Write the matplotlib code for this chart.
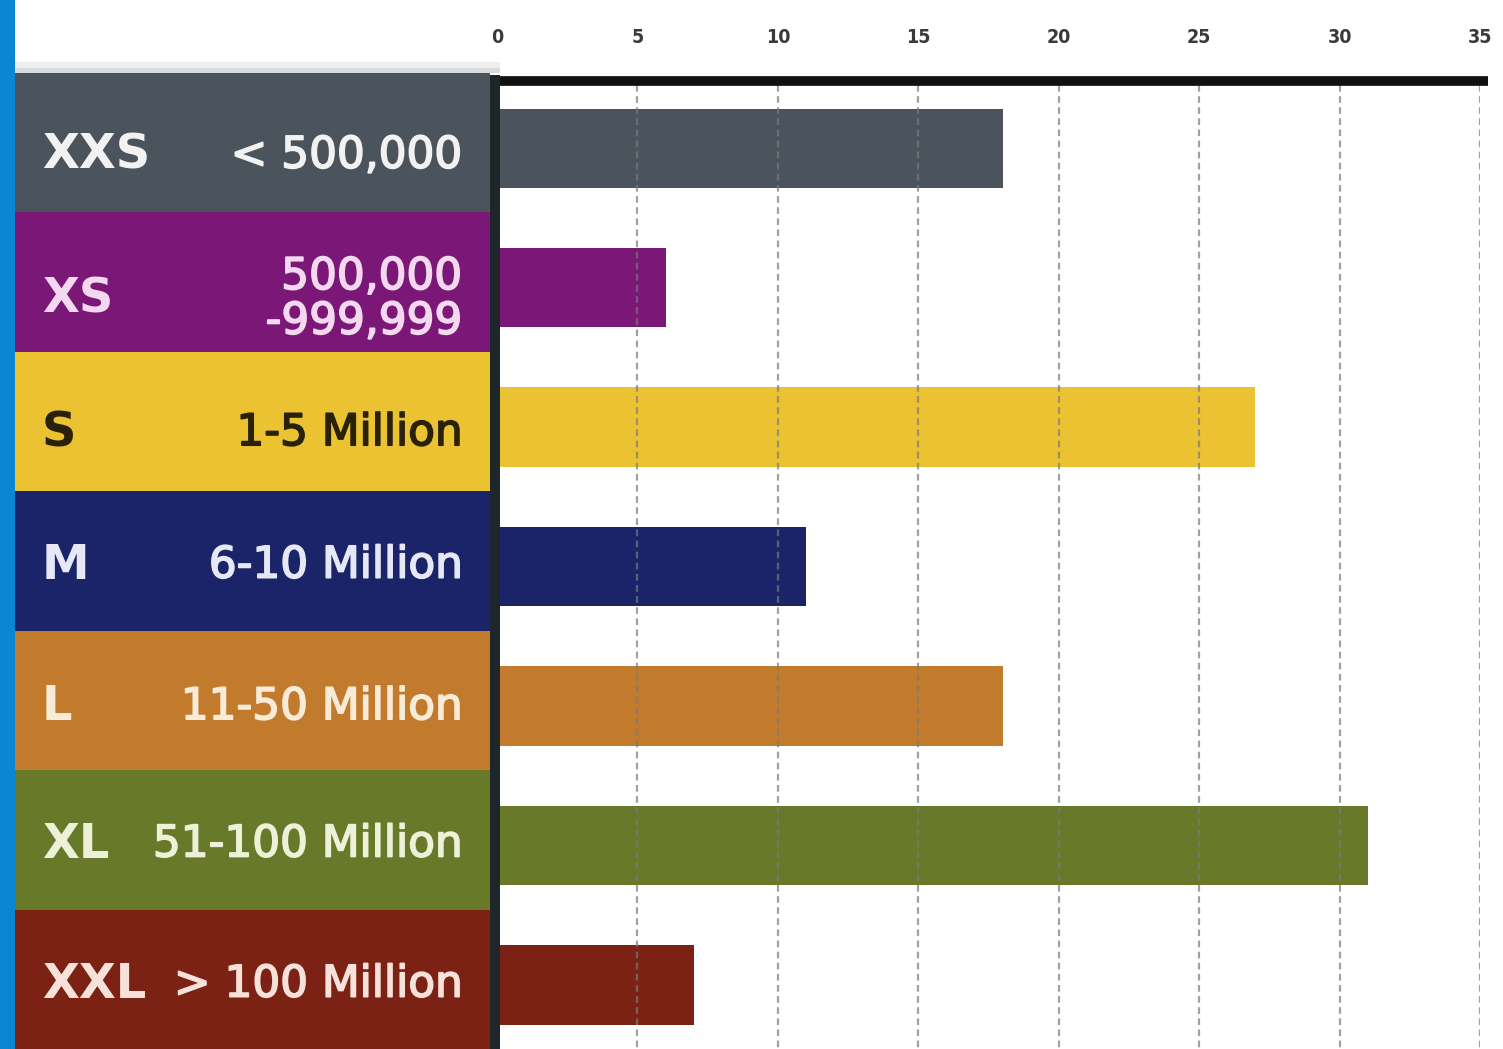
import matplotlib
matplotlib.use("Agg")
import matplotlib.pyplot as plt
from matplotlib.patches import Rectangle
from matplotlib.lines import Line2D
import matplotlib.patheffects as pe

# Population size classes and number of countries in each
sizes = ["XXS", "XS", "S", "M", "L", "XL", "XXL"]
ranges = ["< 500,000", "500,000\n-999,999", "1-5 Million", "6-10 Million",
          "11-50 Million", "51-100 Million", "> 100 Million"]
counts = [18, 6, 27, 11, 18, 31, 7]
tick_values = [0, 5, 10, 15, 20, 25, 30, 35]

colors = ["#4b545d", "#7b1877", "#ebc232", "#1b2468",
          "#c27a2c", "#687a2a", "#7c2214"]
text_colors = ["#f2f2f2", "#f4d8f0", "#2a2208", "#e6e8f6",
               "#f8ecd8", "#eef0d8", "#f6e2da"]
# vertical nudge of each label row (in row units)
label_dy = [0.09, 0.12, 0.08, 0.03, 0.045, 0.03, 0.035]

W, H = 1503, 1049
fig = plt.figure(figsize=(W / 100, H / 100), dpi=100)
fig.patch.set_facecolor("white")


def fx(px):
    return px / W


def fy(py):
    return 1 - py / H


top_px = 73
n = len(sizes)

# Blue stripe on the left edge
fig.add_artist(Rectangle((0, 0), fx(15), 1, transform=fig.transFigure,
                         facecolor="#0a86d2", edgecolor="none", zorder=0))
# soft shadow above the label column
fig.add_artist(Rectangle((fx(15), fy(top_px)), fx(485), 5 / H, transform=fig.transFigure,
                         facecolor="#d8dadc", edgecolor="none", zorder=0))
fig.add_artist(Rectangle((fx(15), fy(top_px - 5)), fx(485), 6 / H, transform=fig.transFigure,
                         facecolor="#eceef0", edgecolor="none", zorder=0))

# ---- Label column ----
lab = fig.add_axes([fx(15), 0, fx(490 - 15), (H - top_px) / H])
lab.set_xlim(0, 1)
lab.set_ylim(n, 0)
lab.axis("off")
for i, (s, r, c, tc) in enumerate(zip(sizes, ranges, colors, text_colors)):
    lab.axhspan(i, i + 1, color=c, lw=0)
    yc = i + 0.5 + label_dy[i]
    lab.text(0.057, yc, s, ha="left", va="center", color=tc,
             fontsize=34.5, fontweight="bold", family="DejaVu Sans")
    lab.text(0.942, yc, r, ha="right", va="center", color=tc,
             fontsize=31.5, family="DejaVu Sans", linespacing=1.05,
             path_effects=[pe.withStroke(linewidth=1.2, foreground=tc)])

# ---- Bar chart ----
ax = fig.add_axes([fx(497), 0, fx(1480 - 497), (H - top_px) / H])
ax.set_xlim(0, 35)
ax.set_ylim(n, 0)
ypos = [i + 0.5 + 0.04 for i in range(n)]
ax.barh(ypos, counts, height=0.57, color=colors, zorder=2)

grid_top = (85 - top_px) / ((H - top_px) / n)
ax.vlines(tick_values[1:], grid_top, n, colors="#7a7a7a", linestyles=(0, (3, 2)),
          lw=1.6, alpha=0.7, zorder=3)

ax.set_xticks(tick_values)
ax.set_xticklabels([str(v) for v in tick_values])
ax.xaxis.tick_top()
ax.tick_params(axis="x", length=0, pad=19, labelsize=14, labelcolor="#3a3a3a")
for t in ax.get_xticklabels():
    t.set_fontstretch("condensed")
    t.set_fontweight("bold")
ax.set_yticks([])
for sp in ax.spines.values():
    sp.set_visible(False)
ax.patch.set_alpha(0)

# Thick rule along the top of the bars
fig.add_artist(Line2D([fx(496), fx(1488)], [fy(80.5), fy(80.5)], transform=fig.transFigure,
                      color="#111111", lw=7, solid_capstyle="butt", zorder=5))
# Dark divider between labels and bars
fig.add_artist(Rectangle((fx(490), 0), fx(10), fy(75), transform=fig.transFigure,
                         facecolor="#1e2629", edgecolor="none", zorder=5))

fig.savefig("out.png", dpi=100, facecolor="white")
